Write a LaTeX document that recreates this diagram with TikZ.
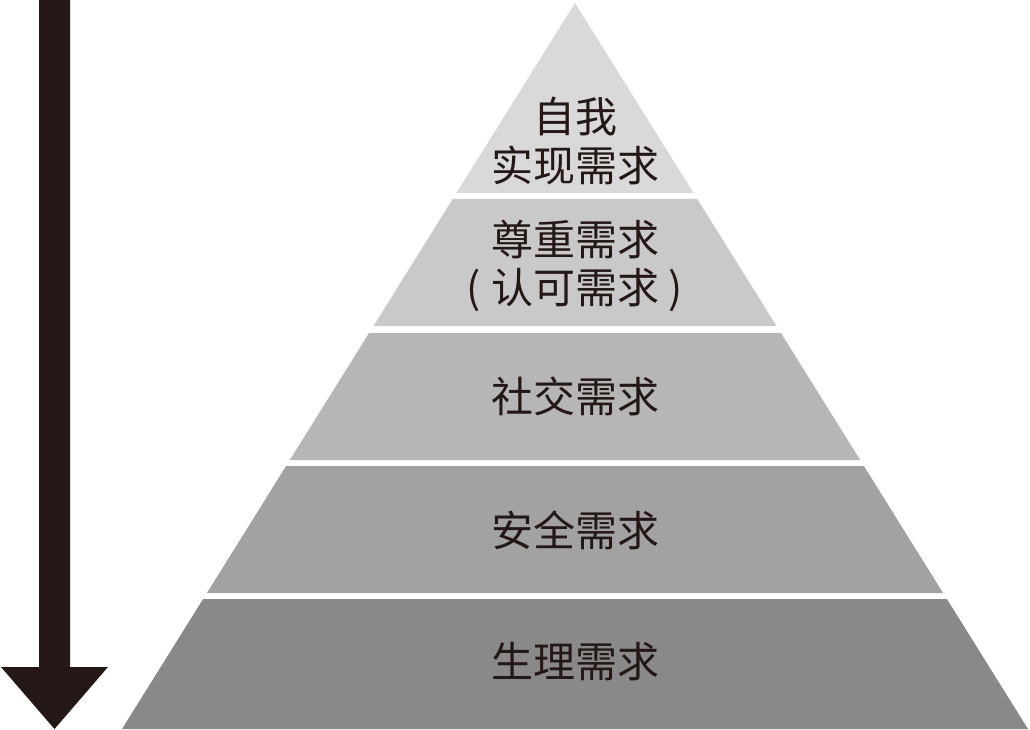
\documentclass[tikz,border=0pt]{standalone}
\usepackage{fontspec}
\newfontfamily\cjk{Noto Sans CJK SC}
\definecolor{arrowc}{HTML}{231815}
\definecolor{lv1}{HTML}{D9D9D9}
\definecolor{lv2}{HTML}{C9C9C9}
\definecolor{lv3}{HTML}{B6B6B6}
\definecolor{lv4}{HTML}{A2A2A2}
\definecolor{lv5}{HTML}{898989}
\definecolor{txt}{HTML}{231815}
\begin{document}
\begin{tikzpicture}[x=1pt,y=-1pt,
  lbl/.style={font=\cjk\fontsize{42}{48.5}\selectfont, text=txt, align=center, inner sep=0pt}]
\useasboundingbox (0,0) rectangle (1030,730);
% pyramid bands
\fill[lv1] (575,3) -- (693.6,193) -- (456.4,193) -- cycle;
\fill[lv2] (452.7,199) -- (697.3,199) -- (776.5,326) -- (373.5,326) -- cycle;
\fill[lv3] (369.1,333) -- (780.9,333) -- (860.2,460) -- (289.8,460) -- cycle;
\fill[lv4] (286.1,466) -- (863.9,466) -- (943.1,593) -- (206.9,593) -- cycle;
\fill[lv5] (203.1,599) -- (946.9,599) -- (1028,729) -- (122,729) -- cycle;
% arrow
\fill[arrowc] (39,0) -- (70,0) -- (70,667) -- (108,667) -- (54.5,729) -- (1,667) -- (39,667) -- cycle;
% labels
\node[lbl] (t1) at (575,141) {自我\\实现需求};
\node[lbl] (t2) at (575,266) {尊重需求\\(\hspace{10pt}认可需求\hspace{10pt})};
\node[lbl] (t3) at (575,396) {社交需求};
\node[lbl] (t4) at (575,530) {安全需求};
\node[lbl] (t5) at (575,662) {生理需求};
\end{tikzpicture}
\end{document}
